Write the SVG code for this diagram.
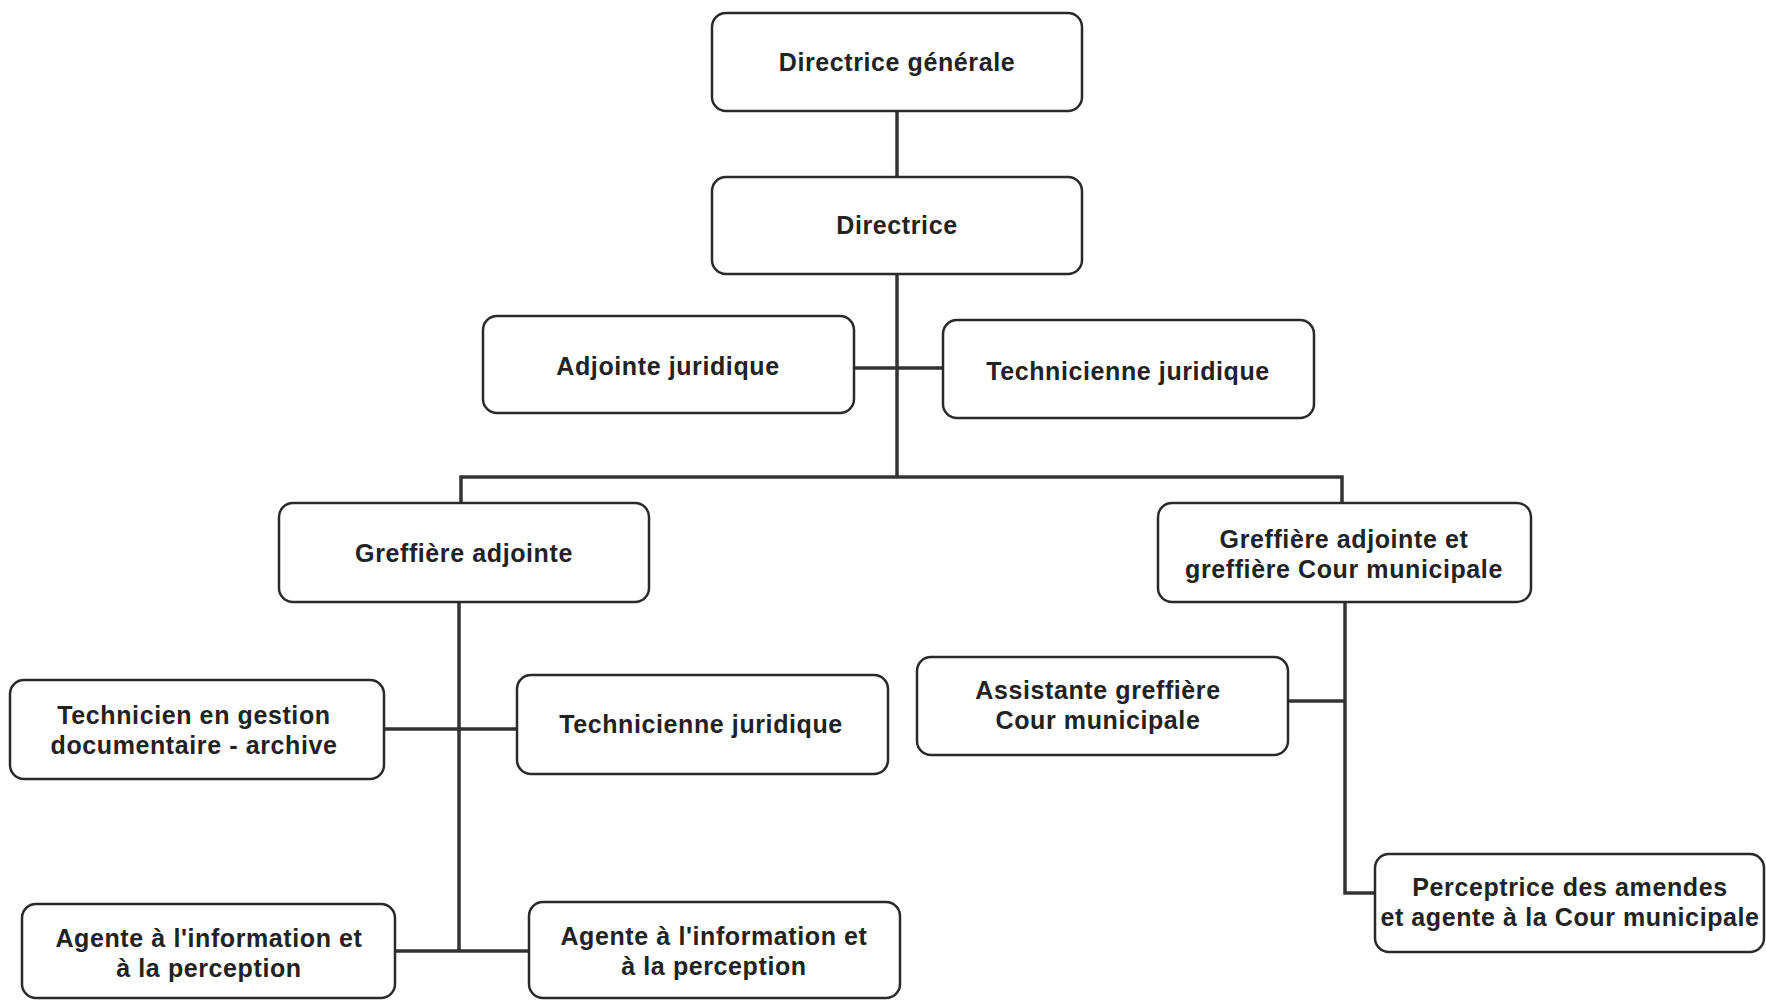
<svg xmlns="http://www.w3.org/2000/svg" width="1766" height="1000" viewBox="0 0 1766 1000">
<style>
.box{fill:#ffffff;stroke:#2a2a2a;stroke-width:2.5}
.t{font-family:"Liberation Sans",Arial,sans-serif;font-weight:bold;font-size:25px;letter-spacing:0.6px;fill:#222;text-anchor:middle}
.c{fill:none;stroke:#333;stroke-width:3.5}
</style>
<rect width="1766" height="1000" fill="#ffffff"/>
<g id="connectors">
<path class="c" d="M897 111 V177"/>
<path class="c" d="M897 274 V477"/>
<path class="c" d="M854 368 H943"/>
<path class="c" d="M461 503 V477 H1342 V503"/>
<path class="c" d="M459 603 V950"/>
<path class="c" d="M384 729 H517"/>
<path class="c" d="M395 951 H529"/>
<path class="c" d="M1345 602 V893 H1375"/>
<path class="c" d="M1288 701 H1345"/>
</g>
<g id="n1"><rect class="box" x="712" y="13" width="370" height="98" rx="14"/><text class="t" x="897" y="71">Directrice générale</text></g>
<g id="n2"><rect class="box" x="712" y="177" width="370" height="97" rx="14"/><text class="t" x="897" y="234">Directrice</text></g>
<g id="n3"><rect class="box" x="483" y="316" width="371" height="97" rx="14"/><text class="t" x="668" y="375">Adjointe juridique</text></g>
<g id="n4"><rect class="box" x="943" y="320" width="371" height="98" rx="14"/><text class="t" x="1128" y="380">Technicienne juridique</text></g>
<g id="n5"><rect class="box" x="279" y="503" width="370" height="99" rx="14"/><text class="t" x="464" y="562">Greffière adjointe</text></g>
<g id="n6"><rect class="box" x="1158" y="503" width="373" height="99" rx="14"/><text class="t" x="1344" y="548">Greffière adjointe et</text><text class="t" x="1344" y="578">greffière Cour municipale</text></g>
<g id="n7"><rect class="box" x="10" y="680" width="374" height="99" rx="14"/><text class="t" x="194" y="724">Technicien en gestion</text><text class="t" x="194" y="754">documentaire - archive</text></g>
<g id="n8"><rect class="box" x="517" y="675" width="371" height="99" rx="14"/><text class="t" x="701" y="733">Technicienne juridique</text></g>
<g id="n9"><rect class="box" x="917" y="657" width="371" height="98" rx="14"/><text class="t" x="1098" y="699">Assistante greffière</text><text class="t" x="1098" y="729">Cour municipale</text></g>
<g id="n10"><rect class="box" x="1375" y="854" width="389" height="98" rx="14"/><text class="t" x="1570" y="896">Perceptrice des amendes</text><text class="t" x="1570" y="926">et agente à la Cour municipale</text></g>
<g id="n11"><rect class="box" x="22" y="904" width="373" height="94" rx="14"/><text class="t" x="209" y="947">Agente à l'information et</text><text class="t" x="209" y="977">à la perception</text></g>
<g id="n12"><rect class="box" x="529" y="902" width="371" height="96" rx="14"/><text class="t" x="714" y="945">Agente à l'information et</text><text class="t" x="714" y="975">à la perception</text></g>
</svg>
